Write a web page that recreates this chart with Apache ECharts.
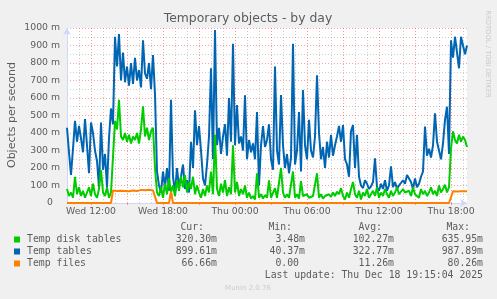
<!DOCTYPE html>
<html>
<head>
<meta charset="utf-8">
<script src="https://cdn.jsdelivr.net/npm/echarts@6/dist/echarts.min.js"></script>
<style>html,body{margin:0;padding:0;background:#F0F0F0}#c{width:497px;height:299px}</style>
</head>
<body>
<div id="c"></div>
<script>
// 10-minute samples from Wed 10:00 to Thu 19:20
const startMinute = 10 * 60;
const stepMinutes = 10;
const sampleCount = 201;

const tempTables = [
430,290,160,310,470,350,440,370,290,480,
330,170,460,400,300,240,90,460,190,280,
90,370,540,450,950,780,965,700,860,690,
780,670,800,680,830,700,760,660,930,740,
710,800,650,845,620,180,100,60,180,90,
200,70,590,150,60,200,90,150,220,80,
130,60,350,200,530,330,440,300,140,100,
220,380,770,250,988,330,430,280,380,450,
270,600,350,910,330,560,340,380,300,615,
250,360,290,340,250,520,100,330,440,320,
360,450,250,190,780,300,220,617,330,200,
280,170,260,910,220,300,520,180,645,330,
250,475,300,260,380,730,400,250,320,200,
350,260,390,270,330,380,440,350,445,250,
220,150,410,445,200,390,150,100,85,130,
110,80,95,120,255,90,70,110,80,130,
70,100,210,90,120,80,100,90,130,110,
160,170,120,80,140,90,110,150,180,437,
270,310,260,330,513,350,300,250,340,475,
550,280,930,830,950,860,770,950,900,850,
900
];

const tempDiskTables = [
80,40,60,30,150,50,90,40,70,30,
60,90,40,110,50,30,80,190,60,40,
90,30,60,60,470,420,590,380,360,400,
350,390,340,380,360,400,340,420,553,380,
430,360,410,430,200,60,40,90,30,110,
50,140,60,100,40,130,70,150,90,160,
60,120,80,150,50,100,60,30,80,40,
100,60,180,50,390,80,40,110,60,130,
40,90,50,330,60,120,40,80,50,100,
30,60,25,40,20,170,30,50,25,45,
30,130,30,20,85,30,40,200,60,30,
50,30,40,180,30,50,25,125,40,30,
50,30,25,40,50,170,30,50,25,40,
30,50,35,60,40,65,50,85,40,20,
60,30,80,120,50,30,70,20,60,40,
80,30,50,70,40,90,30,60,40,80,
50,30,70,40,60,90,50,40,80,60,
50,70,40,90,50,60,30,80,50,70,
40,60,90,50,70,40,100,60,80,105,
60,90,313,410,360,340,390,350,380,360,
320
];

const tempFiles = [
0,0,0,0,0,0,0,0,0,0,0,0,0,0,0,0,0,0,0,0,
0,0,0,72,75,68,74,70,76,69,73,67,74,71,76,68,72,75,69,73,
70,76,68,72,70,0,0,0,0,0,0,0,65,0,0,0,0,0,0,0,
0,0,0,0,0,0,0,0,0,0,0,0,0,0,0,0,0,0,0,0,
0,0,0,0,0,0,0,0,0,0,0,0,0,0,0,0,0,0,0,0,
0,0,0,0,0,0,0,0,0,0,0,0,0,0,0,0,0,0,0,0,
0,0,0,0,0,0,0,0,0,0,0,0,0,0,0,0,0,0,0,0,
0,0,0,0,0,0,0,0,0,0,0,0,0,0,0,0,0,0,0,0,
0,0,0,0,0,0,0,0,0,0,0,0,0,0,0,0,0,0,0,0,
0,0,0,0,0,0,0,0,0,0,0,0,0,67,67,66,67,67,66,67,
67
];

const seriesNames = ['Temp disk tables', 'Temp tables', 'Temp files'];
const seriesColors = ['#00CC00', '#0066B3', '#FF8000'];
const curVals = ['320.30m', '899.61m', '66.66m'];
const minVals = ['3.48m', '40.37m', '0.00'];
const avgVals = ['102.27m', '322.77m', '11.26m'];
const maxVals = ['635.95m', '987.89m', '80.26m'];
const lastUpdate = 'Last update: Thu Dec 18 19:15:04 2025';

function pad(n) { return (n < 10 ? '0' : '') + n; }
const times = [];
for (let i = 0; i < sampleCount; i++) {
  const m = startMinute + i * stepMinutes;
  const day = m >= 1440 ? 'Thu' : 'Wed';
  const mm = m % 1440;
  times.push(day + ' ' + pad(Math.floor(mm / 60)) + ':' + pad(mm % 60));
}
function parseT(v) { const p = v.split(' ')[1].split(':'); return { h: +p[0], m: +p[1] }; }
const isRed = (i, v) => { const t = parseT(v); return t.m === 0 && t.h % 3 === 0; };
const isGrey = (i, v) => { const t = parseT(v); return t.m === 0 && t.h % 3 !== 0; };
const isLabel = (i, v) => { const t = parseT(v); return t.m === 0 && t.h % 6 === 0; };

const FONT = "'DejaVu Sans'";
const MONO = "'DejaVu Sans Mono'";
const TXT = '#5c5c5c';
const redGrid = 'rgba(255,0,0,0.38)';
const greyGrid = 'rgba(128,128,128,0.38)';

function txt(text, x, y, align, font, fill, extra) {
  return Object.assign({
    type: 'text', x: x, y: y, silent: true,
    style: { text: text, font: font, fill: fill, align: align, textAlign: align,
             verticalAlign: 'middle', textVerticalAlign: 'middle' }
  }, extra || {});
}

const graphics = [
  txt('Temporary objects - by day', 248, 19, 'center', '12.4px ' + FONT, TXT),
  txt('Objects per second', 12, 115, 'center', '11px ' + FONT, TXT, { rotation: Math.PI / 2 }),
  txt('RRDTOOL / TOBI OETIKER', 488, 54, 'center', '6.8px ' + FONT, '#C8C8C8', { rotation: -Math.PI / 2 }),
  txt('Munin 2.0.76', 248, 288, 'center', '7px ' + FONT, '#CCCCCC'),
  txt('Cur:', 204, 227.5, 'right', '9.8px ' + MONO, TXT),
  txt('Min:', 292, 227.5, 'right', '9.8px ' + MONO, TXT),
  txt('Avg:', 382, 227.5, 'right', '9.8px ' + MONO, TXT),
  txt('Max:', 470, 227.5, 'right', '9.8px ' + MONO, TXT),
  txt(lastUpdate, 483, 275, 'right', '9.8px ' + MONO, TXT)
];
for (let r = 0; r < 3; r++) {
  const y = 239.5 + r * 12;
  graphics.push({ type: 'rect', silent: true, shape: { x: 14, y: y - 3, width: 6, height: 6 }, style: { fill: seriesColors[r] } });
  graphics.push(txt(seriesNames[r], 27, y, 'left', '9.8px ' + MONO, TXT));
  graphics.push(txt(curVals[r], 217, y, 'right', '9.8px ' + MONO, TXT));
  graphics.push(txt(minVals[r], minVals[r].endsWith('m') ? 305 : 299, y, 'right', '9.8px ' + MONO, TXT));
  graphics.push(txt(avgVals[r], 394, y, 'right', '9.8px ' + MONO, TXT));
  graphics.push(txt(maxVals[r], 483, y, 'right', '9.8px ' + MONO, TXT));
}

const chart = echarts.init(document.getElementById('c'), null, { renderer: 'canvas' });
chart.setOption({
  animation: false,
  backgroundColor: '#F0F0F0',
  grid: { left: 67, top: 28, width: 400, height: 175, show: true, backgroundColor: '#FFFFFF', borderWidth: 0 },
  xAxis: [
    {
      type: 'category', data: times, boundaryGap: false, position: 'bottom',
      axisLine: { show: true, lineStyle: { color: '#CFD6F8', width: 1 }, symbol: ['none', 'arrow'], symbolSize: [6, 7] },
      axisTick: { show: true, interval: isRed, length: 2, lineStyle: { color: redGrid } },
      axisLabel: { interval: isLabel, color: TXT, fontFamily: 'DejaVu Sans', fontSize: 9.3, margin: 4 },
      splitLine: { show: true, interval: isRed, lineStyle: { color: redGrid, type: [1, 2], width: 1 } }
    },
    {
      type: 'category', data: times, boundaryGap: false, position: 'top',
      axisLine: { show: false }, axisTick: { show: false }, axisLabel: { show: false },
      splitLine: { show: true, interval: isGrey, lineStyle: { color: greyGrid, type: [1, 2], width: 1 } }
    }
  ],
  yAxis: {
    type: 'value', min: 0, max: 1000, interval: 100,
    axisLine: { show: true, lineStyle: { color: '#CFD6F8', width: 1 }, symbol: ['none', 'arrow'], symbolSize: [6, 7] },
    axisTick: { show: false },
    axisLabel: {
      color: TXT, fontFamily: 'DejaVu Sans', fontSize: 9.3, margin: 7,
      formatter: v => v === 0 ? '{z|0}' : v + ' m',
      rich: { z: { color: TXT, fontFamily: 'DejaVu Sans', fontSize: 9.3, padding: [0, 7, 0, 0] } }
    },
    splitLine: { show: true, lineStyle: { color: redGrid, type: [1, 2], width: 1 } },
    minorTick: { show: false, splitNumber: 2 },
    minorSplitLine: { show: true, lineStyle: { color: greyGrid, type: [1, 2], width: 1 } }
  },
  series: [
    { name: seriesNames[1], type: 'line', data: tempTables, symbol: 'none', z: 2, silent: true,
      lineStyle: { color: seriesColors[1], width: 2 }, itemStyle: { color: seriesColors[1] } },
    { name: seriesNames[0], type: 'line', data: tempDiskTables, symbol: 'none', z: 3, silent: true,
      lineStyle: { color: seriesColors[0], width: 2 }, itemStyle: { color: seriesColors[0] } },
    { name: seriesNames[2], type: 'line', data: tempFiles, symbol: 'none', z: 4, silent: true,
      lineStyle: { color: seriesColors[2], width: 2 }, itemStyle: { color: seriesColors[2] } }
  ],
  graphic: graphics
});
</script>
</body>
</html>
